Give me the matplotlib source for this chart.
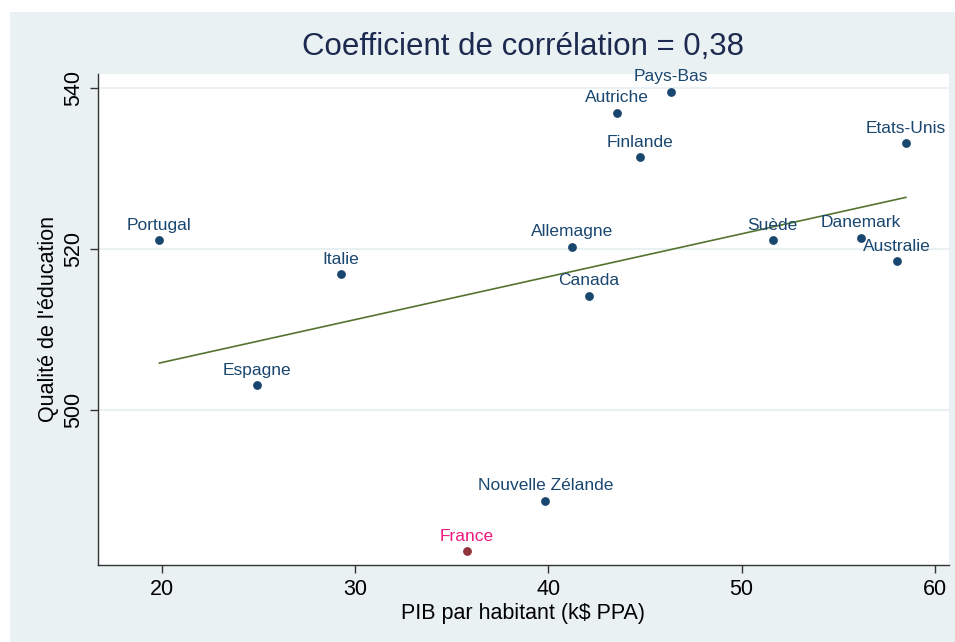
import numpy as np
import matplotlib.pyplot as plt
from matplotlib.patches import Rectangle

plt.rcParams['font.family'] = ['Liberation Sans', 'DejaVu Sans']

# PIB par habitant (k$ PPA) et qualité de l'éducation
pays = ["Portugal", "Italie", "Espagne", "Allemagne", "Canada", "Autriche",
        "Pays-Bas", "Finlande", "Nouvelle Zélande", "France", "Suède",
        "Danemark", "Australie", "Etats-Unis"]
pib = [19.88, 29.28, 24.93, 41.24, 42.11, 43.57,
       46.33, 44.76, 39.84, 35.78, 51.61,
       56.19, 58.02, 58.50]
education = [521.1, 516.9, 503.1, 520.3, 514.2, 536.9,
             539.5, 531.4, 488.8, 482.5, 521.1,
             521.4, 518.5, 533.1]
highlight = "France"
title = "Coefficient de corrélation = 0,38"

bg = "#eaf1f3"
navy = "#1a476f"

fig = plt.figure(figsize=(9.55, 6.42), dpi=100)
fig.patch.set_facecolor("white")
fig.patches.append(Rectangle((10 / 955, 0), 1, 1 - 12 / 642, transform=fig.transFigure,
                             facecolor=bg, edgecolor="none", zorder=-10))

ax = fig.add_axes([97.7 / 955, 1 - 565 / 642, (949 - 97.7) / 955, (565 - 74) / 642])
ax.set_facecolor("white")

x = np.array(pib)
y = np.array(education)

# droite de régression
a, b = np.polyfit(x, y, 1)
xs = np.array([x.min(), x.max()])
ax.plot(xs, a * xs + b, color="#55752f", lw=1.2, zorder=2)

for name, xi, yi in zip(pays, pib, education):
    if name == highlight:
        pc, tc = "#90353b", "#f0197f"
    else:
        pc, tc = navy, navy
    ax.scatter(xi, yi, s=40, color=pc, zorder=3, linewidths=0)
    ax.annotate(name, (xi, yi), xytext=(0, 7.5), textcoords="offset points",
                ha="center", va="baseline", color=tc, fontsize=12.5, zorder=4)

ax.set_xlim(16.69, 60.73)
ax.set_ylim(480.8, 541.7)
ax.set_xticks([20, 30, 40, 50, 60])
ax.set_yticks([500, 520, 540])
ax.yaxis.grid(True, color=bg, lw=1.5, zorder=0)
ax.set_axisbelow(True)
for s in ["top", "right"]:
    ax.spines[s].set_visible(False)
for s in ["left", "bottom"]:
    ax.spines[s].set_color("#333333")
    ax.spines[s].set_linewidth(1.0)
ax.tick_params(axis="both", length=6, width=1, color="#333333", labelsize=15.5, pad=4)
plt.setp(ax.get_yticklabels(), rotation=90, va="center")

ax.set_xlabel("PIB par habitant (k$ PPA)", fontsize=15.5, labelpad=2)
ax.set_ylabel("Qualité de l'éducation", fontsize=15.5, labelpad=3)
fig.text((97.7 + 949) / 2 / 955, 1 - 47 / 642, title, ha="center", va="center",
         fontsize=22.5, color="#1c2a4f")

fig.savefig("out.png", dpi=100)
